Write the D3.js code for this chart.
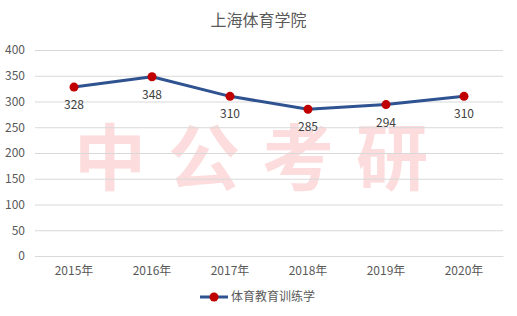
<!DOCTYPE html>
<html>
<head>
<meta charset="utf-8">
<script src="https://cdn.jsdelivr.net/npm/d3@7"></script>
<style>
  body { margin: 0; background: #fff; }
  text { font-family: "Microsoft YaHei", "Noto Sans CJK SC", sans-serif; }
</style>
</head>
<body>
<script>
// data
var years = ['2015年', '2016年', '2017年', '2018年', '2019年', '2020年']
var scores = [328, 348, 310, 285, 294, 310]
var yTicks = [0, 50, 100, 150, 200, 250, 300, 350, 400]
var seriesName = '体育教育训练学'
var title = '上海体育学院'

var W = 517, H = 316
var margin = {top: 50, right: 14, bottom: 60, left: 35}

var svg = d3.select('body').append('svg')
  .attr('width', W)
  .attr('height', H)

var x = d3.scaleBand()
  .domain(years)
  .range([margin.left, W - margin.right])

var y = d3.scaleLinear()
  .domain([0, 400])
  .range([H - margin.bottom, margin.top])

// watermark, sits behind the grid
svg.append('text')
  .attr('x', 262)
  .attr('y', 184)
  .attr('text-anchor', 'middle')
  .style('font-size', '72px')
  .style('font-weight', 'bold')
  .style('letter-spacing', '22px')
  .attr('fill', '#fcdcdd')
  .text('中公考研')

// title
svg.append('text')
  .attr('x', W / 2)
  .attr('y', 26)
  .attr('text-anchor', 'middle')
  .style('font-size', '16px')
  .attr('fill', '#595959')
  .text(title)

// grid lines + y labels
var yAxis = svg.append('g')
  .attr('transform', 'translate(' + margin.left + ',0)')
  .call(d3.axisLeft(y).tickValues(yTicks).tickSize(-(W - margin.left - margin.right)).tickPadding(10))
yAxis.select('.domain').remove()
yAxis.selectAll('line').attr('stroke', '#d9d9d9')
yAxis.selectAll('text')
  .attr('fill', '#595959')
  .style('font-size', '12px')

// x labels
var xAxis = svg.append('g')
  .attr('transform', 'translate(0,' + (H - margin.bottom) + ')')
  .call(d3.axisBottom(x).tickSize(0).tickPadding(10))
xAxis.select('.domain').attr('stroke', '#d9d9d9')
xAxis.selectAll('text')
  .attr('fill', '#595959')
  .style('font-size', '12px')

var pts = years.map(function (d, i) {
  return {year: d, value: scores[i]}
})

var line = d3.line()
  .x(function (d) { return x(d.year) + x.bandwidth() / 2 })
  .y(function (d) { return y(d.value) })

svg.append('path')
  .datum(pts)
  .attr('d', line)
  .attr('fill', 'none')
  .attr('stroke', '#2f5290')
  .attr('stroke-width', 3)
  .attr('stroke-linejoin', 'round')

svg.selectAll('.dot')
  .data(pts)
  .enter().append('circle')
  .attr('cx', function (d) { return x(d.year) + x.bandwidth() / 2 })
  .attr('cy', function (d) { return y(d.value) })
  .attr('r', 4.5)
  .attr('fill', '#c00000')

// value labels under the points
svg.selectAll('.lbl')
  .data(pts)
  .enter().append('text')
  .attr('x', function (d) { return x(d.year) + x.bandwidth() / 2 })
  .attr('y', function (d) { return y(d.value) + 22 })
  .attr('text-anchor', 'middle')
  .style('font-size', '12px')
  .attr('fill', '#404040')
  .text(function (d) { return d.value })

// legend
var lg = svg.append('g').attr('transform', 'translate(200,297)')
lg.append('line')
  .attr('x1', 0).attr('x2', 28)
  .attr('stroke', '#2f5290').attr('stroke-width', 3)
lg.append('circle').attr('cx', 14).attr('r', 4.5).attr('fill', '#c00000')
lg.append('text')
  .attr('x', 31)
  .attr('dy', '0.35em')
  .style('font-size', '12px')
  .attr('fill', '#595959')
  .text(seriesName)
</script>
</body>
</html>
